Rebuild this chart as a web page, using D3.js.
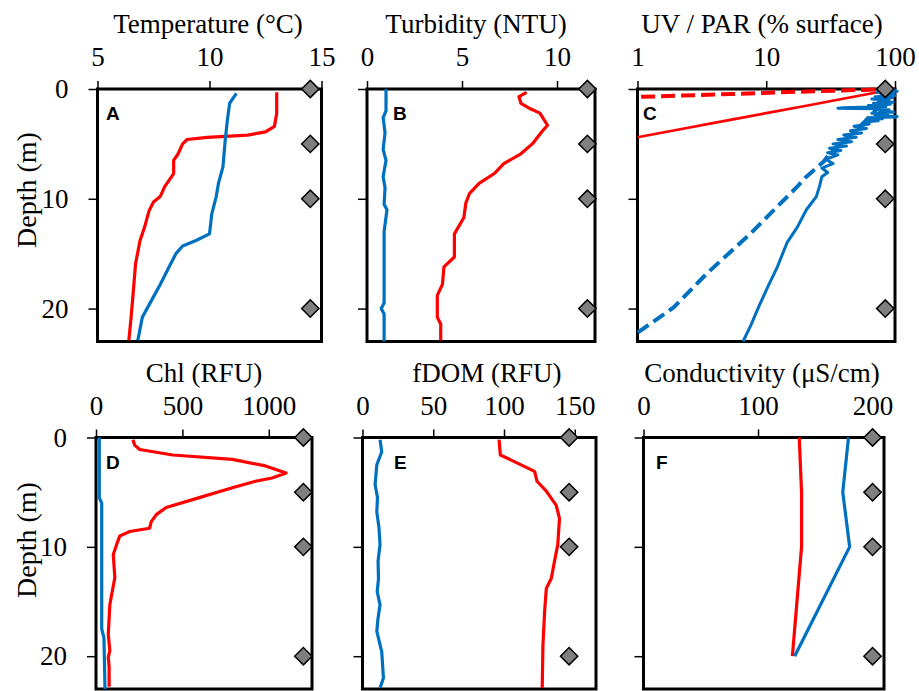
<!DOCTYPE html>
<html>
<head>
<meta charset="utf-8">
<script src="https://cdnjs.cloudflare.com/ajax/libs/d3/7.8.5/d3.min.js"></script>
<style>
  body { margin: 0; background: #fff; }
  svg { display: block; }
  .tick text { font-family: 'Liberation Serif', 'Times New Roman', serif; font-size: 27px; fill: #000; }
  .tick line { stroke: #000; stroke-width: 1.5px; }
  .title { font-family: 'Liberation Serif', 'Times New Roman', serif; font-size: 27px; fill: #000; }
  .letter { font-family: 'Liberation Sans', Arial, sans-serif; font-size: 19px; font-weight: bold; fill: #000; }
</style>
</head>
<body>
<svg id="chart" width="919" height="691"></svg>
<script>
// depth axis + sampling depths (diamonds)
const depthTicks = [0, 10, 20]
const sampleDepths = [0, 5, 10, 20]

// A - temperature (°C)
const tempRedDepth = [0.3, 2.2, 3.4, 3.9, 4.2, 4.4, 4.6, 5.0, 5.9, 6.5, 7.7, 8.3, 8.9, 9.8, 10.3, 11.1, 12.6, 13.8, 15.9, 18.4, 20.8, 22.9]
const tempRed = [13.0, 13.0, 12.9, 12.5, 11.7, 9.9, 9.0, 8.8, 8.6, 8.4, 8.4, 8.2, 8.0, 7.8, 7.5, 7.3, 7.1, 6.9, 6.7, 6.6, 6.5, 6.4]
const tempBlueDepth = [0.4, 1.3, 2.8, 4.7, 7.1, 8.6, 9.8, 11.4, 13.2, 13.8, 14.3, 15.0, 16.2, 17.8, 19.3, 20.8, 22.9]
const tempBlue = [11.2, 10.9, 10.8, 10.7, 10.6, 10.4, 10.3, 10.1, 10.0, 9.4, 8.8, 8.5, 8.2, 7.8, 7.4, 7.0, 6.8]
const tempDiamond = 14.5

// B - turbidity (NTU)
const turbRedDepth = [0.3, 0.7, 1.3, 1.8, 2.2, 3.3, 3.9, 5.0, 5.9, 6.8, 7.7, 8.6, 9.5, 10.4, 11.7, 13.2, 15.3, 16.2, 17.8, 18.8, 20.8, 21.4, 22.9]
const turbRed = [8.4, 8.0, 8.1, 8.6, 9.1, 9.5, 9.2, 8.7, 8.1, 7.2, 6.7, 5.9, 5.4, 5.2, 5.1, 4.6, 4.6, 4.05, 3.97, 3.7, 3.7, 3.88, 3.88]
const turbBlueDepth = [0, 2, 2.6, 4, 5.5, 6.5, 8, 9, 10.5, 11, 13, 15, 17, 19.5, 20, 20.5, 23]
const turbBlue = [1.0, 1.0, 0.85, 0.95, 0.85, 1.0, 0.85, 0.95, 0.9, 1.05, 0.9, 0.9, 0.9, 0.9, 0.75, 0.9, 0.9]
const turbDiamond = 11.6

// C - UV (dashed) / PAR (solid), % of surface
const uvRedDepth = [0, 0.08, 0.25, 0.46, 0.6, 0.72]
const uvRed = [100, 57, 17.4, 5.3, 2.2, 1]
const parRedDepth = [0, 0.66, 1.54, 2.2, 2.86, 3.74, 4.4]
const parRed = [100, 50, 20, 10, 5, 2, 1]
const uvBlueDepth = [0, 1, 2, 3, 4, 5, 5.9, 6.6, 8.1, 8.9, 13.2, 16.8, 19.9, 22.2]
const uvBlue = [100, 85, 70, 58, 47, 38, 31, 28, 20, 17.4, 7.5, 3.46, 1.91, 1.0]
const parBlueDepth = [0, 0.1, 0.2, 0.3, 0.4, 0.5, 0.6, 0.7, 0.8, 0.9, 1.0, 1.1, 1.2, 1.3, 1.4, 1.5, 1.6, 1.7, 1.75, 1.8, 1.9, 2.0, 2.1, 2.2, 2.3, 2.4, 2.5, 2.55, 2.6, 2.7, 2.8, 2.9, 3.0,
    3.2, 3.4, 3.6, 3.8, 4.0, 4.2, 4.4, 4.6, 4.8, 5.0, 5.2, 5.4, 5.6, 5.8, 6.0, 6.4, 6.8, 7.2, 7.6, 8.0, 8.8, 9.8, 11.0, 12.6, 14.0, 16.2, 18.0, 19.9, 21.5, 23.0]
const parBlue = [100, 80, 104, 72, 98, 78, 100, 70, 95, 66, 90, 74, 97, 68, 92, 62, 85, 40, 36, 70, 90, 76, 98, 66, 88, 70, 104, 102, 64, 80, 60, 74, 58,
    63, 48, 60, 45, 55, 40, 50, 36, 46, 33, 42, 31, 38, 30, 36, 29, 33, 27, 30, 27, 26, 24.5, 20.5, 17.4, 14.5, 12.2, 10.3, 8.7, 7.6, 6.6]
const lightDiamond = 84

// D - Chl (RFU)
const chlRedDepth = [0.2, 0.7, 1.1, 1.6, 2.0, 2.6, 3.25, 3.7, 4.0, 4.6, 5.5, 6.4, 7.05, 7.7, 8.3, 8.6, 9.0, 9.8, 10.7, 12.8, 15.3, 18.0, 19.5, 20.1, 21.0, 22.8]
const chlRed = [214, 224, 253, 444, 789, 981, 1100, 1019, 923, 789, 598, 406, 349, 320, 310, 195, 138, 119, 100, 109, 80, 71, 80, 71, 76, 76]
const chlBlueDepth = [0, 5.5, 6, 17.5, 18.3, 23]
const chlBlue = [19, 19, 33, 33, 46, 52]
const chlDiamond = 1200

// E - fDOM (RFU)
const fdomRedDepth = [0.2, 1.6, 2.0, 3.1, 4.0, 4.9, 6.2, 7.4, 9.8, 11.3, 12.9, 13.8, 15.9, 19.0, 22.9]
const fdomRed = [96.5, 97.4, 104, 121.6, 123.3, 129.9, 136.9, 139.2, 138, 135.7, 133.4, 129.9, 128.7, 127.5, 127]
const fdomBlueDepth = [0.2, 1.3, 2.5, 4.3, 5.5, 6.8, 8.2, 9.8, 11.3, 12.9, 14.1, 15.3, 16.5, 17.7, 19.6, 22.0, 22.9]
const fdomBlue = [12.4, 13.6, 10.1, 8.9, 10.6, 10.1, 11.6, 12.4, 11.0, 11.3, 10.4, 12.4, 11.0, 10.1, 13.6, 14.8, 12.4]
const fdomDiamond = 146

// F - conductivity (μS/cm)
const condDepth = [0, 5, 10, 20]
const condRed = [136, 138, 138, 130]
const condBlue = [179, 174, 180, 132]
const condDiamond = 200

const RED = '#ff0000'
const BLUE = '#0070c0'
const SERIF = "'Liberation Serif', 'Times New Roman', serif"
const depthDomain = [0, 23]

const panels = [
    { id: 'A', title: 'Temperature (°C)', titleX: 208, letterX: 106, left: 97.5, right: 321.5, top: 89, bottom: 341.5,
        domain: [5, 15], ticks: [5, 10, 15], yLabels: true, diamond: tempDiamond,
        series: [
            { x: tempRed, y: tempRedDepth, color: RED, width: 3.2 },
            { x: tempBlue, y: tempBlueDepth, color: BLUE, width: 3.2 },
        ] },
    { id: 'B', title: 'Turbidity (NTU)', titleX: 476, letterX: 393, left: 367, right: 595, top: 89, bottom: 341.5,
        domain: [0, 12], ticks: [0, 5, 10], diamond: turbDiamond,
        series: [
            { x: turbRed, y: turbRedDepth, color: RED, width: 3.2 },
            { x: turbBlue, y: turbBlueDepth, color: BLUE, width: 3.2 },
        ] },
    { id: 'C', title: 'UV / PAR (% surface)', titleX: 762, letterX: 643, left: 637.5, right: 895, top: 89, bottom: 341.5,
        domain: [1, 100], ticks: [1, 10, 100], log: true, diamond: lightDiamond,
        series: [
            { x: parRed, y: parRedDepth, color: RED, width: 2.6 },
            { x: uvRed, y: uvRedDepth, color: RED, width: 4, dash: '14,6' },
            { x: uvBlue, y: uvBlueDepth, color: BLUE, width: 4, dash: '13,6' },
            { x: parBlue, y: parBlueDepth, color: BLUE, width: 3 },
        ] },
    { id: 'D', title: 'Chl (RFU)', titleX: 204, letterX: 106, left: 96, right: 312, top: 437.5, bottom: 689,
        domain: [0, 1250], ticks: [0, 500, 1000], yLabels: true, diamond: chlDiamond,
        series: [
            { x: chlRed, y: chlRedDepth, color: RED, width: 3.2 },
            { x: chlBlue, y: chlBlueDepth, color: BLUE, width: 3.2 },
        ] },
    { id: 'E', title: 'fDOM (RFU)', titleX: 487, letterX: 394, left: 362.5, right: 596, top: 437.5, bottom: 689,
        domain: [0, 165], ticks: [0, 50, 100, 150], diamond: fdomDiamond,
        series: [
            { x: fdomRed, y: fdomRedDepth, color: RED, width: 3.2 },
            { x: fdomBlue, y: fdomBlueDepth, color: BLUE, width: 3.2 },
        ] },
    { id: 'F', title: 'Conductivity (μS/cm)', titleX: 762, letterX: 656, left: 643.5, right: 884, top: 437.5, bottom: 689,
        domain: [0, 210], ticks: [0, 100, 200], diamond: condDiamond,
        series: [
            { x: condRed, y: condDepth, color: RED, width: 3.2 },
            { x: condBlue, y: condDepth, color: BLUE, width: 3.2 },
        ] },
]

const svg = d3.select('#chart')

panels.forEach((p) => {
    const g = svg.append('g').attr('class', 'panel-' + p.id)

    const x = (p.log ? d3.scaleLog() : d3.scaleLinear())
        .domain(p.domain)
        .range([p.left, p.right])
    const y = d3.scaleLinear()
        .domain(depthDomain)
        .range([p.top, p.bottom])

    // frame
    g.append('rect')
        .attr('x', p.left)
        .attr('y', p.top)
        .attr('width', p.right - p.left)
        .attr('height', p.bottom - p.top)
        .attr('fill', 'none')
        .attr('stroke', '#000')
        .attr('stroke-width', 3)

    g.append('g')
        .attr('transform', `translate(0,${p.top})`)
        .attr('font-family', SERIF)
        .call(d3.axisTop(x).tickValues(p.ticks).tickSize(8).tickSizeOuter(0).tickPadding(15).tickFormat(d3.format('d')))
        .call((a) => a.select('.domain').remove())
        .attr('font-family', SERIF)
        .attr('font-size', 27)

    g.append('g')
        .attr('transform', `translate(${p.left},0)`)
        .call(d3.axisLeft(y).tickValues(depthTicks).tickSize(9).tickSizeOuter(0).tickPadding(20)
            .tickFormat(p.yLabels ? d3.format('d') : () => ''))
        .call((a) => a.select('.domain').remove())
        .attr('font-family', SERIF)
        .attr('font-size', 27)

    g.append('text')
        .attr('class', 'title')
        .attr('x', p.titleX)
        .attr('y', p.top - 56)
        .attr('text-anchor', 'middle')
        .text(p.title)

    const line = d3.line()
        .x((d) => x(d[0]))
        .y((d) => y(d[1]))

    p.series.forEach((s) => {
        g.append('path')
            .datum(d3.zip(s.x, s.y))
            .attr('d', line)
            .attr('fill', 'none')
            .attr('stroke', s.color)
            .attr('stroke-width', s.width)
            .attr('stroke-linejoin', 'round')
            .attr('stroke-dasharray', s.dash || null)
    })

    g.selectAll('.diamond')
        .data(sampleDepths)
        .join('path')
        .attr('class', 'diamond')
        .attr('d', d3.symbol(d3.symbolSquare, 150))
        .attr('transform', (d) => `translate(${x(p.diamond)},${y(d)}) rotate(45)`)
        .attr('fill', '#7f7f7f')
        .attr('stroke', '#000')
        .attr('stroke-width', 1.5)

    g.append('text')
        .attr('class', 'letter')
        .attr('x', p.letterX)
        .attr('y', p.top + 31)
        .text(p.id)
})

// shared depth labels
;[190, 540].forEach((cy) => {
    svg.append('text')
        .attr('class', 'title')
        .attr('transform', `translate(36,${cy}) rotate(-90)`)
        .attr('text-anchor', 'middle')
        .style('font-size', '28px')
        .text('Depth (m)')
})
</script>
</body>
</html>
